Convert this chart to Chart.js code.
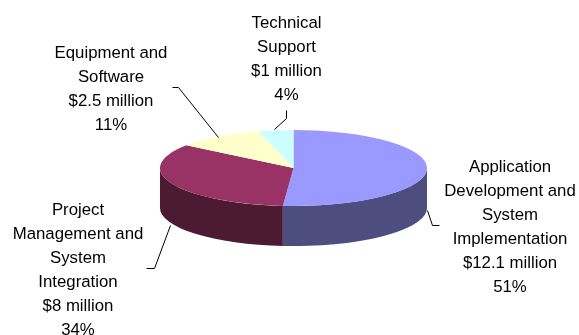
<!DOCTYPE html>
<html>
<head>
<meta charset="utf-8">
<title>Budget</title>
<style>
  html, body { margin: 0; padding: 0; background: #fff; }
  canvas { display: block; }
</style>
<script src="https://cdn.jsdelivr.net/npm/chart.js@4"></script>
</head>
<body>
<canvas id="budgetChart" width="579" height="335"></canvas>
<script>
const categories = [
    ['Application', 'Development and', 'System', 'Implementation'],
    ['Project', 'Management and', 'System', 'Integration'],
    ['Equipment and', 'Software'],
    ['Technical', 'Support']
];
const millions = [12.1, 8, 2.5, 1];

const topColors = ['#9999ff', '#993366', '#ffffcc', '#ccffff'];
const sideColors = ['#4d4d80', '#4d1a33', '#808066', '#668080'];

// flattening of the pie and height of the rim
const tilt = 38 / 133.5;
const rimDepth = 40;

// where each label block sits and how its leader line runs
const labelPlaces = [
    { x: 510, y: 167, leader: [[439, 225], [432, 225], [427, 210]] },
    { x: 78, y: 210, leader: [[146, 268], [154, 268], [170, 225]] },
    { x: 111, y: 53, leader: [[172, 87], [178, 87], [218, 137]] },
    { x: 286.5, y: 23, leader: [[286, 110], [286, 118], [274, 129]] }
];
const lineHeight = 24.1;

const total = millions.reduce((a, b) => a + b, 0);

function labelLines(i) {
    return categories[i].concat([
        '$' + millions[i] + ' million',
        Math.round(millions[i] / total * 100) + '%'
    ]);
}

const pie3d = {
    id: 'pie3d',
    beforeDatasetsDraw(chart) {
        const ctx = chart.ctx;
        const arcs = chart.getDatasetMeta(0).data;
        const cx = arcs[0].x;
        const cy = arcs[0].y;

        // rim: only the part of a wedge on the near half of the ellipse shows.
        // later wedges go first so each seam is covered by its neighbour
        for (let i = arcs.length - 1; i >= 0; i--) {
            const arc = arcs[i];
            const from = Math.max(arc.startAngle, 0);
            const to = Math.min(arc.endAngle, Math.PI);
            if (from >= to) continue;
            const rx = arc.outerRadius;
            const ry = rx * tilt;
            ctx.fillStyle = sideColors[i];
            ctx.beginPath();
            ctx.ellipse(cx, cy, rx, ry, 0, from, to);
            ctx.ellipse(cx, cy + rimDepth, rx, ry, 0, to, from, true);
            ctx.closePath();
            ctx.fill();
        }

        // the top face is drawn by Chart.js under this transform
        ctx.save();
        ctx.translate(cx, cy);
        ctx.scale(1, tilt);
        ctx.translate(-cx, -cy);
    },
    afterDatasetsDraw(chart) {
        const ctx = chart.ctx;
        ctx.restore();

        ctx.strokeStyle = '#000';
        ctx.lineWidth = 1;
        labelPlaces.forEach(place => {
            ctx.beginPath();
            place.leader.forEach((p, i) => {
                if (i === 0) ctx.moveTo(p[0] + 0.5, p[1] + 0.5);
                else ctx.lineTo(p[0] + 0.5, p[1] + 0.5);
            });
            ctx.stroke();
        });

        ctx.fillStyle = '#000';
        ctx.font = '16.8px "Liberation Sans", Arial, sans-serif';
        ctx.textAlign = 'center';
        ctx.textBaseline = 'middle';
        labelPlaces.forEach((place, i) => {
            labelLines(i).forEach((line, n) => {
                ctx.fillText(line, place.x, place.y + n * lineHeight);
            });
        });
    }
};

new Chart(document.getElementById('budgetChart'), {
    type: 'pie',
    data: {
        labels: categories.map(c => c.join(' ')),
        datasets: [{
            data: millions,
            backgroundColor: topColors,
            borderWidth: 0,
            clip: false
        }]
    },
    options: {
        responsive: false,
        animation: false,
        layout: {
            padding: { left: 160, right: 152, top: 34.5, bottom: 33.5 }
        },
        plugins: {
            legend: { display: false },
            tooltip: { enabled: false }
        }
    },
    plugins: [pie3d]
});
</script>
</body>
</html>
